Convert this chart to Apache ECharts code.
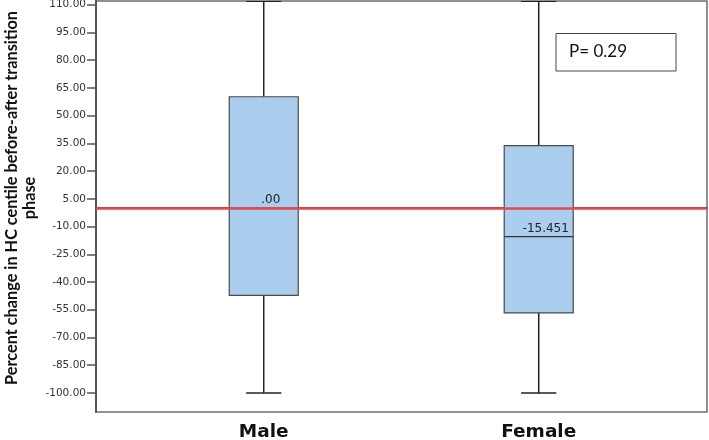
<!DOCTYPE html>
<html>
<head>
<meta charset="utf-8">
<script src="https://cdn.jsdelivr.net/npm/echarts@6/dist/echarts.min.js"></script>
<style>html,body{margin:0;padding:0;background:#fff}#c{width:709px;height:440px}</style>
</head>
<body>
<div id="c"></div>
<script>
var categories = ['Male', 'Female'];
var categoryPos = [1, 2];
var whiskerMin = [-100, -100];
var q1 = [-47.2, -56.7];
var median = [0, -15.451];
var q3 = [60.2, 33.8];
var whiskerMax = [111.8, 111.8];
var medianLabels = ['.00', '-15.451'];
var yTicks = [-100, -85, -70, -55, -40, -25, -10, 5, 20, 35, 50, 65, 80, 95, 110];
var refLineValue = 0;
var yTitle = 'Percent change in HC centile before-after transition\nphase';
var pText = 'P= 0.29';

var boxData = categories.map(function (c, i) {
  return [categoryPos[i], whiskerMin[i], q1[i], median[i], q3[i], whiskerMax[i], i];
});

var chart = echarts.init(document.getElementById('c'));
chart.setOption({
  animation: false,
  grid: { left: 96, right: 2, top: 1, bottom: 28, outerBoundsMode: 'none', containLabel: false, show: true, borderColor: '#6e6e6e', borderWidth: 1.5, backgroundColor: 'transparent' },
  xAxis: {
    type: 'value', min: 0.39, max: 2.612,
    splitLine: { show: false },
    axisLine: { show: true, lineStyle: { color: '#555', width: 2 } },
    axisTick: { show: true, customValues: categoryPos, length: 8, lineStyle: { color: '#555', width: 1.5 } },
    axisLabel: {
      customValues: categoryPos, margin: 11,
      formatter: function (v) { return categories[Math.round(v) - 1] || ''; },
      fontFamily: 'DejaVu Sans', fontWeight: 'bold', fontSize: 18.5, color: '#111'
    }
  },
  yAxis: {
    type: 'value', min: -110.3, max: 112,
    splitLine: { show: false },
    axisLine: { show: true, lineStyle: { color: '#555', width: 2 } },
    axisTick: { show: true, customValues: yTicks, length: 9, lineStyle: { color: '#555', width: 1.5 } },
    axisLabel: {
      customValues: yTicks, margin: 10,
      formatter: function (v) { return v.toFixed(2); },
      fontFamily: 'DejaVu Sans', fontSize: 10.5, color: '#333'
    }
  },
  graphic: [
    {
      type: 'text', x: 21, y: 198, rotation: Math.PI / 2,
      style: { text: yTitle, textAlign: 'center', textVerticalAlign: 'middle', font: 'bold 16.3px Lato', lineHeight: 18, fill: '#111' }
    },
    {
      type: 'rect', shape: { x: 556, y: 33.5, width: 120, height: 37.5 },
      style: { fill: '#fff', stroke: '#444', lineWidth: 1 }
    },
    {
      type: 'text', x: 569, y: 52,
      style: { text: pText, textAlign: 'left', textVerticalAlign: 'middle', font: '17px Lato', fill: '#111' }
    }
  ],
  series: [{
    type: 'custom',
    data: boxData,
    encode: { x: 0, y: [1, 2, 3, 4, 5] },
    clip: true,
    renderItem: function (params, api) {
      var x = api.value(0);
      var pMin = api.coord([x, api.value(1)]);
      var pQ1 = api.coord([x, api.value(2)]);
      var pMed = api.coord([x, api.value(3)]);
      var pQ3 = api.coord([x, api.value(4)]);
      var pMax = api.coord([x, api.value(5)]);
      var boxW = api.size([0.251, 0])[0];
      var capW = api.size([0.128, 0])[0];
      var cx = pMed[0];
      var idx = api.value(6);
      var lineStyle = { stroke: '#222', lineWidth: 1.5 };
      return {
        type: 'group',
        children: [
          { type: 'line', shape: { x1: cx, y1: pQ3[1], x2: cx, y2: pMax[1] }, style: lineStyle },
          { type: 'line', shape: { x1: cx, y1: pQ1[1], x2: cx, y2: pMin[1] }, style: lineStyle },
          { type: 'line', shape: { x1: cx - capW / 2, y1: pMax[1], x2: cx + capW / 2, y2: pMax[1] }, style: lineStyle },
          { type: 'line', shape: { x1: cx - capW / 2, y1: pMin[1], x2: cx + capW / 2, y2: pMin[1] }, style: lineStyle },
          { type: 'rect', shape: { x: cx - boxW / 2, y: pQ3[1], width: boxW, height: pQ1[1] - pQ3[1] }, style: { fill: '#abcdee', stroke: '#4a4a4a', lineWidth: 1.2 } },
          { type: 'line', shape: { x1: cx - boxW / 2, y1: pMed[1], x2: cx + boxW / 2, y2: pMed[1] }, style: { stroke: '#333', lineWidth: 1.2 } },
          { type: 'text', x: cx + 7, y: pMed[1] - 2, style: { text: medianLabels[idx], textAlign: 'center', textVerticalAlign: 'bottom', font: '12px DejaVu Sans', fill: '#222' } }
        ]
      };
    },
    markLine: {
      silent: true, symbol: 'none', animation: false,
      label: { show: false },
      lineStyle: { color: '#e24a50', width: 2.5, type: 'solid' },
      data: [{ yAxis: refLineValue }]
    },
    z: 2
  }]
});
</script>
</body>
</html>
